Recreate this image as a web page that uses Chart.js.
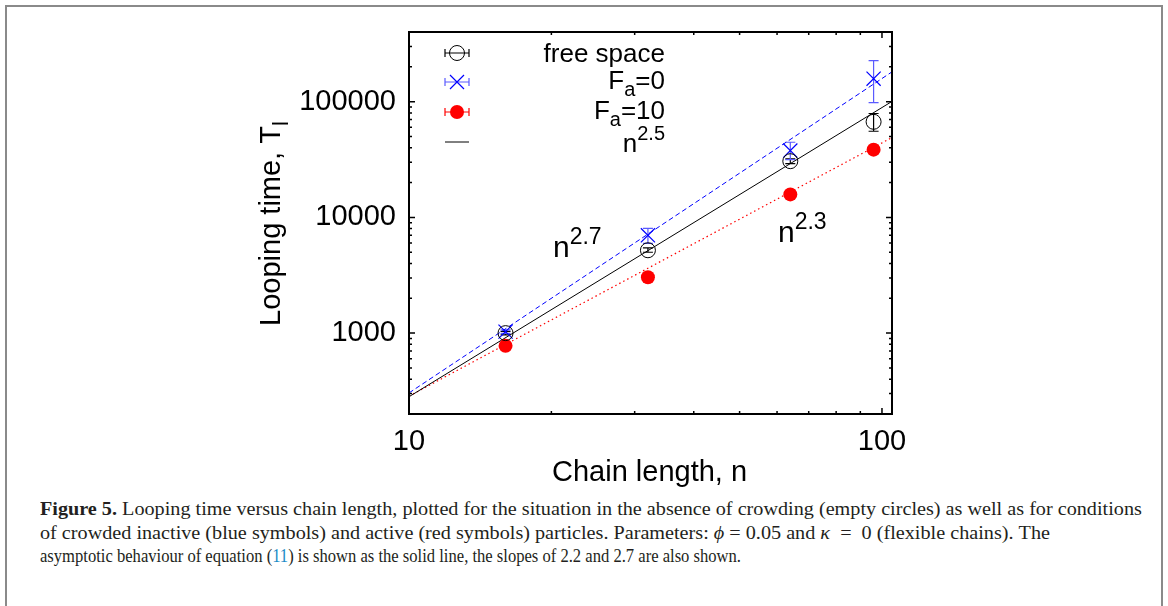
<!DOCTYPE html>
<html>
<head>
<meta charset="utf-8">
<script src="https://cdn.jsdelivr.net/npm/chart.js@4.4.1/dist/chart.umd.min.js"></script>
<style>
  body { margin: 0; background: #fff; width: 1168px; height: 606px; overflow: hidden; position: relative; }
  #frame { position: absolute; left: 5px; top: 5px; width: 1158px; height: 700px; box-sizing: border-box; border: 2px solid #8a8a8a; }
  #wrap { position: absolute; left: 0; top: 0; width: 1168px; height: 490px; }
  #caption { position: absolute; left: 40px; top: 497px; font-family: "Liberation Serif", "Times New Roman", serif; font-size: 19px; color: #231f20; }
  .ln { white-space: nowrap; transform-origin: 0 0; height: 23.5px; line-height: 23.5px; display: block; width: max-content; }
  .ref { color: #1a8ac6; }
</style>
</head>
<body>
<div id="frame"></div>
<div id="wrap"><canvas id="chart" width="1168" height="490"></canvas></div>
<div id="caption">
  <div class="ln" id="l1"><b>Figure 5.</b> Looping time versus chain length, plotted for the situation in the absence of crowding (empty circles) as well as for conditions</div>
  <div class="ln" id="l2">of crowded inactive (blue symbols) and active (red symbols) particles. Parameters: <i>ϕ</i> = 0.05 and <i>κ</i> &nbsp;= &nbsp;0 (flexible chains). The</div>
  <div class="ln" id="l3">asymptotic behaviour of equation (<span class="ref">11</span>) is shown as the solid line, the slopes of 2.2 and 2.7 are also shown.</div>
</div>
<script>
// --- data ---
const chainLength = [16, 32, 64, 96];

const freeSpace   = [1000, 5200, 30600, 67000];
const freeSpaceLo = [965, 5000, 29200, 55500];
const freeSpaceHi = [1035, 5450, 32000, 79000];

const inactive    = [1030, 7000, 37800, 158000];
const inactiveLo  = [995, 5970, 31600, 98000];
const inactiveHi  = [1065, 8040, 44600, 226000];

const active      = [776, 3040, 15800, 38500];
const activeLo    = [760, 2980, 15400, 36500];
const activeHi    = [792, 3100, 16200, 40500];

// guide lines, end points at the frame edges
const fitX  = [10, 105];
const fit25 = [282, 100500];
const fit27 = [304, 181000];
const fit23 = [285, 49000];

const xTicks = [10, 100];
const yTicks = [1000, 10000, 100000];

const SANS = '"Liberation Sans", Arial, sans-serif';
const BLUE = "#0000ff";
const RED = "#ff0000";

const pts = (ys) => chainLength.map((x, i) => ({ x: x, y: ys[i] }));
const line = (ys) => fitX.map((x, i) => ({ x: x, y: ys[i] }));

// --- text with sub/superscripts ---
function rich(ctx, parts, x, y, size, align) {
  const small = Math.round(size * 0.75);
  let w = 0;
  parts.forEach((p) => {
    ctx.font = (p.sub || p.sup ? small : size) + "px " + SANS;
    p.w = ctx.measureText(p.t).width;
    w += p.w;
  });
  let cx = align === "right" ? x - w : x;
  parts.forEach((p) => {
    ctx.font = (p.sub || p.sup ? small : size) + "px " + SANS;
    let dy = p.sub ? size * 0.28 : p.sup ? -size * 0.45 : 0;
    ctx.fillText(p.t, cx, y + dy);
    cx += p.w;
  });
}

function errBars(ctx, x, y, lo, hi, color) {
  ctx.save();
  ctx.strokeStyle = color;
  ctx.lineWidth = 1.2;
  chainLength.forEach((n, i) => {
    const px = x.getPixelForValue(n);
    const y1 = y.getPixelForValue(lo[i]);
    const y2 = y.getPixelForValue(hi[i]);
    ctx.beginPath();
    ctx.moveTo(px, y1); ctx.lineTo(px, y2);
    ctx.moveTo(px - 5, y1); ctx.lineTo(px + 5, y1);
    ctx.moveTo(px - 5, y2); ctx.lineTo(px + 5, y2);
    ctx.stroke();
  });
  ctx.restore();
}

function legendBar(ctx, cx, cy, color) {
  ctx.strokeStyle = color;
  ctx.lineWidth = 1.2;
  ctx.beginPath();
  ctx.moveTo(cx - 12, cy); ctx.lineTo(cx + 12, cy);
  ctx.moveTo(cx - 12, cy - 4); ctx.lineTo(cx - 12, cy + 4);
  ctx.moveTo(cx + 12, cy - 4); ctx.lineTo(cx + 12, cy + 4);
  ctx.stroke();
}

const decor = {
  id: "decor",
  beforeDatasetsDraw(chart) {
    const { ctx, scales: { x, y } } = chart;
    errBars(ctx, x, y, freeSpaceLo, freeSpaceHi, "#000");
    errBars(ctx, x, y, inactiveLo, inactiveHi, "#5a5aff");
    errBars(ctx, x, y, activeLo, activeHi, RED);
  },
  afterDraw(chart) {
    const { ctx, chartArea: a, scales: { x, y } } = chart;
    ctx.save();
    ctx.strokeStyle = "#000";
    ctx.fillStyle = "#000";

    // ticks, pointing inward on all four sides
    ctx.lineWidth = 1.5;
    ctx.beginPath();
    for (let d = 10; d <= 100; d *= 10) {
      for (let m = 1; m <= 9; m++) {
        const v = m * d;
        if (v < x.min || v > x.max) continue;
        const px = x.getPixelForValue(v);
        const len = m === 1 ? 6 : 3;
        ctx.moveTo(px, a.bottom); ctx.lineTo(px, a.bottom - len);
        ctx.moveTo(px, a.top); ctx.lineTo(px, a.top + len);
      }
    }
    for (let d = 100; d <= 100000; d *= 10) {
      for (let m = 1; m <= 9; m++) {
        const v = m * d;
        if (v < y.min || v > y.max) continue;
        const py = y.getPixelForValue(v);
        const len = m === 1 ? 6 : 3;
        ctx.moveTo(a.left, py); ctx.lineTo(a.left + len, py);
        ctx.moveTo(a.right, py); ctx.lineTo(a.right - len, py);
      }
    }
    ctx.stroke();

    // frame
    ctx.lineWidth = 2;
    ctx.strokeRect(a.left, a.top, a.right - a.left, a.bottom - a.top);

    // legend
    const lx = 457;
    legendBar(ctx, lx, 53, "#000");
    ctx.lineWidth = 1;
    ctx.beginPath(); ctx.arc(lx, 53, 7.5, 0, Math.PI * 2); ctx.stroke();

    legendBar(ctx, lx, 82, "#5a5aff");
    ctx.strokeStyle = BLUE; ctx.lineWidth = 1.2;
    ctx.beginPath();
    ctx.moveTo(lx - 7, 75); ctx.lineTo(lx + 7, 89);
    ctx.moveTo(lx + 7, 75); ctx.lineTo(lx - 7, 89);
    ctx.stroke();

    legendBar(ctx, lx, 112, RED);
    ctx.fillStyle = RED;
    ctx.beginPath(); ctx.arc(lx, 112, 7, 0, Math.PI * 2); ctx.fill();

    ctx.strokeStyle = "#000"; ctx.lineWidth = 1;
    ctx.beginPath(); ctx.moveTo(lx - 12, 142); ctx.lineTo(lx + 12, 142); ctx.stroke();

    ctx.fillStyle = "#000";
    ctx.textBaseline = "alphabetic";
    rich(ctx, [{ t: "free space" }], 665, 62, 26, "right");
    rich(ctx, [{ t: "F" }, { t: "a", sub: true }, { t: "=0" }], 665, 89, 26, "right");
    rich(ctx, [{ t: "F" }, { t: "a", sub: true }, { t: "=10" }], 665, 119, 26, "right");
    rich(ctx, [{ t: "n" }, { t: "2.5", sup: true }], 665, 152, 26, "right");

    // slope labels
    rich(ctx, [{ t: "n" }, { t: "2.7", sup: true }], 553, 257, 30, "left");
    rich(ctx, [{ t: "n" }, { t: "2.3", sup: true }], 778, 242, 30, "left");

    // axis titles
    rich(ctx, [{ t: "Chain length, n" }], 552, 481, 29, "left");
    ctx.translate(280, 223);
    ctx.rotate(-Math.PI / 2);
    ctx.font = "29px " + SANS;
    const tw = ctx.measureText("Looping time, T").width + 6;
    rich(ctx, [{ t: "Looping time, T" }, { t: "l", sub: true }], -tw / 2, 0, 29, "left");
    ctx.restore();
  },
};

new Chart(document.getElementById("chart"), {
  type: "scatter",
  data: {
    datasets: [
      {
        label: "free space",
        data: pts(freeSpace),
        pointStyle: "circle",
        pointRadius: 7.5,
        pointBorderWidth: 1,
        pointBorderColor: "#000",
        pointBackgroundColor: "rgba(0,0,0,0)",
      },
      {
        label: "Fa=0",
        data: pts(inactive),
        pointStyle: "crossRot",
        pointRadius: 10,
        pointBorderWidth: 1.2,
        pointBorderColor: BLUE,
      },
      {
        label: "Fa=10",
        data: pts(active),
        pointStyle: "circle",
        pointRadius: 7,
        pointBorderWidth: 0,
        pointBackgroundColor: RED,
        pointBorderColor: RED,
      },
      {
        label: "n^2.5",
        data: line(fit25),
        showLine: true,
        pointRadius: 0,
        borderColor: "#000",
        borderWidth: 1,
      },
      {
        label: "n^2.7",
        data: line(fit27),
        showLine: true,
        pointRadius: 0,
        borderColor: BLUE,
        borderWidth: 1,
        borderDash: [5, 3],
      },
      {
        label: "n^2.3",
        data: line(fit23),
        showLine: true,
        pointRadius: 0,
        borderColor: RED,
        borderWidth: 1.2,
        borderDash: [1.5, 3],
      },
    ],
  },
  options: {
    responsive: false,
    animation: false,
    events: [],
    layout: { padding: { left: 0, top: 32, right: 276, bottom: 16 } },
    scales: {
      x: {
        type: "logarithmic",
        min: 10,
        max: 105,
        afterFit: (s) => { s.height = 60; },
        afterBuildTicks: (s) => { s.ticks = xTicks.map((v) => ({ value: v })); },
        grid: { display: false },
        border: { display: false },
        ticks: {
          color: "#000",
          padding: 3,
          maxRotation: 0,
          autoSkip: false,
          font: { family: "Liberation Sans", size: 29 },
          callback: (v) => String(v),
        },
      },
      y: {
        type: "logarithmic",
        min: 200,
        max: 400000,
        afterFit: (s) => { s.width = 409; },
        afterBuildTicks: (s) => { s.ticks = yTicks.map((v) => ({ value: v })); },
        grid: { display: false },
        border: { display: false },
        ticks: {
          color: "#000",
          padding: 5,
          autoSkip: false,
          font: { family: "Liberation Sans", size: 29 },
          callback: (v) => String(v),
        },
      },
    },
    plugins: {
      legend: { display: false },
      tooltip: { enabled: false },
    },
  },
  plugins: [decor],
});

// --- caption: squeeze each line to its width in the figure;
//     the first line shares the second line's squeeze and is justified ---
(function () {
  const l1 = document.getElementById("l1");
  const l2 = document.getElementById("l2");
  const l3 = document.getElementById("l3");
  const s2 = 1010 / l2.getBoundingClientRect().width;
  const s3 = 701 / l3.getBoundingClientRect().width;
  const w1 = l1.getBoundingClientRect().width;
  const gaps1 = (l1.textContent.trim().match(/ /g) || []).length;
  const extra = (1097 / s2 - w1) / gaps1;
  if (extra > 0) l1.style.wordSpacing = extra.toFixed(3) + "px";
  l1.style.transform = "scaleX(" + s2.toFixed(4) + ")";
  l2.style.transform = "scaleX(" + s2.toFixed(4) + ")";
  l3.style.transform = "scaleX(" + s3.toFixed(4) + ")";
})();
</script>
</body>
</html>
